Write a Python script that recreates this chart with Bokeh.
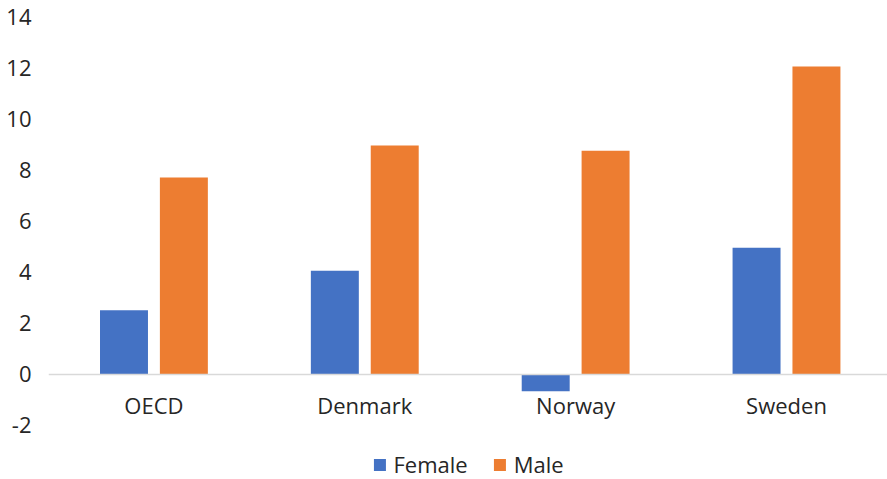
from bokeh.plotting import figure
from bokeh.models import (ColumnDataSource, Range1d, FixedTicker, Legend,
                          LegendItem)
from bokeh.transform import dodge
from bokeh.embed import file_html
from bokeh.resources import INLINE

# Data
categories = ["OECD", "Denmark", "Norway", "Sweden"]
female = [2.5, 4.05, -0.67, 4.95]
male = [7.7, 8.95, 8.75, 12.05]
y_ticks = [-2, 0, 2, 4, 6, 8, 10, 12, 14]

BLUE = "#4472C4"
ORANGE = "#ED7D31"
TEXT = "#262626"
FONT = "Open Sans"
FONT_SIZE = "22px"

# categories sit at the centres of unit-wide slots
pos = [i + 0.5 for i in range(len(categories))]
source = ColumnDataSource(data=dict(pos=pos, female=female, male=male))

p = figure(width=887, height=479,
           x_range=Range1d(0, 3.979), y_range=Range1d(-4.13, 14.63),
           output_backend="svg", toolbar_location=None, tools="",
           min_border_left=48, min_border_right=0, min_border_top=0,
           min_border_bottom=0)
p.outline_line_color = None
p.background_fill_color = "white"
p.border_fill_color = "white"
p.xgrid.visible = False
p.ygrid.visible = False

bar_w = 0.2275
offset = 0.142
r_f = p.vbar(x=dodge("pos", -offset, range=p.x_range), top="female", bottom=0,
             width=bar_w, source=source, fill_color=BLUE, line_color=None)
r_m = p.vbar(x=dodge("pos", offset, range=p.x_range), top="male", bottom=0,
             width=bar_w, source=source, fill_color=ORANGE, line_color=None)

# y axis: labels only, plain hyphen for negatives
yax = p.yaxis[0]
yax.ticker = FixedTicker(ticks=y_ticks)
yax.major_label_overrides = {t: str(t) for t in y_ticks}
yax.axis_line_color = None
yax.major_tick_line_color = None
yax.minor_tick_line_color = None
yax.major_tick_out = 0
yax.major_label_standoff = 17
yax.major_label_text_font = FONT
yax.major_label_text_font_size = FONT_SIZE
yax.major_label_text_color = TEXT

# x axis drawn through the zero line
xax = p.xaxis[0]
xax.fixed_location = 0
xax.ticker = FixedTicker(ticks=pos)
xax.major_label_overrides = {pv: c for pv, c in zip(pos, categories)}
xax.axis_line_color = "#D9D9D9"
xax.axis_line_width = 1.5
xax.major_tick_line_color = None
xax.minor_tick_line_color = None
xax.major_tick_out = 0
xax.major_tick_in = 0
xax.major_label_standoff = 16
xax.major_label_text_font = FONT
xax.major_label_text_font_size = FONT_SIZE
xax.major_label_text_color = TEXT

legend = Legend(items=[LegendItem(label="Female", renderers=[r_f]),
                       LegendItem(label="Male", renderers=[r_m])],
                orientation="horizontal", location="bottom_center",
                glyph_width=15, glyph_height=15, label_standoff=7,
                spacing=24, padding=0, margin=0,
                border_line_color=None, background_fill_alpha=0,
                label_text_font=FONT, label_text_font_size=FONT_SIZE,
                label_text_color=TEXT)
p.add_layout(legend, "center")

open("out.html", "w").write(file_html(p, INLINE))
